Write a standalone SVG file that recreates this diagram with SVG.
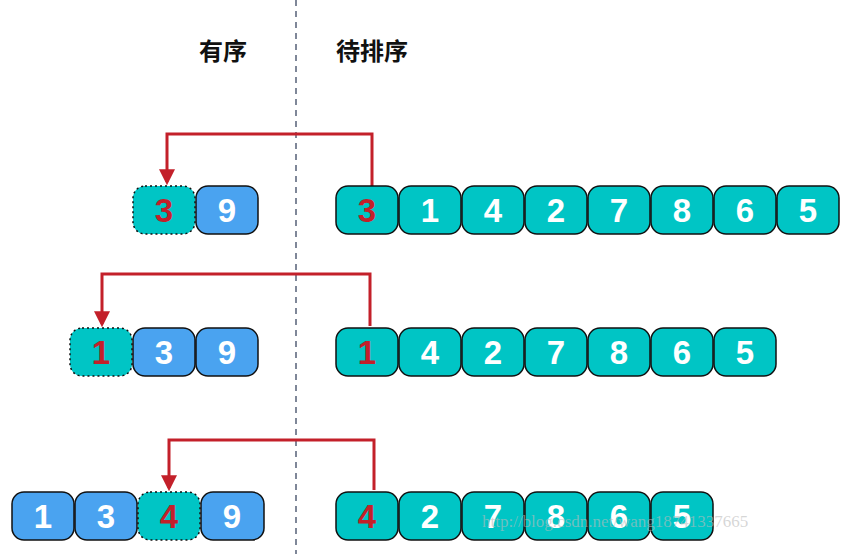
<svg xmlns="http://www.w3.org/2000/svg" width="864" height="554" viewBox="0 0 864 554">
<style>
.b{stroke:#111;stroke-width:1.5}
.s{fill:#4aa3f0}
.u{fill:#00c5c5}
.d{stroke-dasharray:2 3}
.t{font-family:"Liberation Sans",Arial,sans-serif;font-weight:bold;font-size:33px;fill:#fff;text-anchor:middle}
.r{fill:#c3202a}
.h{font-family:"Noto Sans CJK SC",sans-serif;font-weight:bold;font-size:24px;fill:#111;text-anchor:middle}
.a{fill:none;stroke:#c3202a;stroke-width:3}
</style>
<defs>
<marker id="m" viewBox="0 0 10 10" refX="5" refY="8" markerWidth="16" markerHeight="20" markerUnits="userSpaceOnUse" orient="0"><path d="M0,0L10,0L5,10z" fill="#c3202a"/></marker></defs>
<rect width="864" height="554" fill="#fff"/>
<line x1="296" y1="0" x2="296" y2="554" stroke="#556077" stroke-width="1.5" stroke-dasharray="6 5"/>
<text class="h" x="223" y="60">有序</text>
<text class="h" x="372" y="60">待排序</text>
<g id="connectors">
<path class="a" d="M372,186V134H167V182" marker-end="url(#m)"/>
<path class="a" d="M370,326V274H102V324" marker-end="url(#m)"/>
<path class="a" d="M374,490V440H169V488" marker-end="url(#m)"/>
</g>
<g id="row1">
<g id="r1l3"><rect class="b u d" x="133" y="186" width="62" height="48" rx="12"/><text class="t r" x="164" y="222">3</text></g>
<g id="r1l9"><rect class="b s" x="196" y="186" width="62" height="48" rx="12"/><text class="t" x="227" y="222">9</text></g>
<g id="r1u3"><rect class="b u" x="336" y="186" width="62" height="48" rx="12"/><text class="t r" x="367" y="222">3</text></g>
<g id="r1u1"><rect class="b u" x="399" y="186" width="62" height="48" rx="12"/><text class="t" x="430" y="222">1</text></g>
<g id="r1u4"><rect class="b u" x="462" y="186" width="62" height="48" rx="12"/><text class="t" x="493" y="222">4</text></g>
<g id="r1u2"><rect class="b u" x="525" y="186" width="62" height="48" rx="12"/><text class="t" x="556" y="222">2</text></g>
<g id="r1u7"><rect class="b u" x="588" y="186" width="62" height="48" rx="12"/><text class="t" x="619" y="222">7</text></g>
<g id="r1u8"><rect class="b u" x="651" y="186" width="62" height="48" rx="12"/><text class="t" x="682" y="222">8</text></g>
<g id="r1u6"><rect class="b u" x="714" y="186" width="62" height="48" rx="12"/><text class="t" x="745" y="222">6</text></g>
<g id="r1u5"><rect class="b u" x="777" y="186" width="62" height="48" rx="12"/><text class="t" x="808" y="222">5</text></g>
</g>
<g id="row2">
<g id="r2l1"><rect class="b u d" x="70" y="328" width="62" height="48" rx="12"/><text class="t r" x="101" y="364">1</text></g>
<g id="r2l3"><rect class="b s" x="133" y="328" width="62" height="48" rx="12"/><text class="t" x="164" y="364">3</text></g>
<g id="r2l9"><rect class="b s" x="196" y="328" width="62" height="48" rx="12"/><text class="t" x="227" y="364">9</text></g>
<g id="r2u1"><rect class="b u" x="336" y="328" width="62" height="48" rx="12"/><text class="t r" x="367" y="364">1</text></g>
<g id="r2u4"><rect class="b u" x="399" y="328" width="62" height="48" rx="12"/><text class="t" x="430" y="364">4</text></g>
<g id="r2u2"><rect class="b u" x="462" y="328" width="62" height="48" rx="12"/><text class="t" x="493" y="364">2</text></g>
<g id="r2u7"><rect class="b u" x="525" y="328" width="62" height="48" rx="12"/><text class="t" x="556" y="364">7</text></g>
<g id="r2u8"><rect class="b u" x="588" y="328" width="62" height="48" rx="12"/><text class="t" x="619" y="364">8</text></g>
<g id="r2u6"><rect class="b u" x="651" y="328" width="62" height="48" rx="12"/><text class="t" x="682" y="364">6</text></g>
<g id="r2u5"><rect class="b u" x="714" y="328" width="62" height="48" rx="12"/><text class="t" x="745" y="364">5</text></g>
</g>
<g id="row3">
<g id="r3l1"><rect class="b s" x="12" y="492" width="62" height="48" rx="12"/><text class="t" x="43" y="528">1</text></g>
<g id="r3l3"><rect class="b s" x="75" y="492" width="62" height="48" rx="12"/><text class="t" x="106" y="528">3</text></g>
<g id="r3l4"><rect class="b u d" x="138" y="492" width="62" height="48" rx="12"/><text class="t r" x="169" y="528">4</text></g>
<g id="r3l9"><rect class="b s" x="201" y="492" width="63" height="48" rx="12"/><text class="t" x="232" y="528">9</text></g>
<g id="r3u4"><rect class="b u" x="336" y="492" width="62" height="48" rx="12"/><text class="t r" x="367" y="528">4</text></g>
<g id="r3u2"><rect class="b u" x="399" y="492" width="62" height="48" rx="12"/><text class="t" x="430" y="528">2</text></g>
<g id="r3u7"><rect class="b u" x="462" y="492" width="62" height="48" rx="12"/><text class="t" x="493" y="528">7</text></g>
<g id="r3u8"><rect class="b u" x="525" y="492" width="62" height="48" rx="12"/><text class="t" x="556" y="528">8</text></g>
<g id="r3u6"><rect class="b u" x="588" y="492" width="62" height="48" rx="12"/><text class="t" x="619" y="528">6</text></g>
<g id="r3u5"><rect class="b u" x="651" y="492" width="62" height="48" rx="12"/><text class="t" x="682" y="528">5</text></g>
</g>
<text x="482" y="527" font-family="Liberation Serif,serif" font-size="17" fill="#bbb" fill-opacity="0.6">http://blog.csdn.net/wang18741337665</text>
</svg>
